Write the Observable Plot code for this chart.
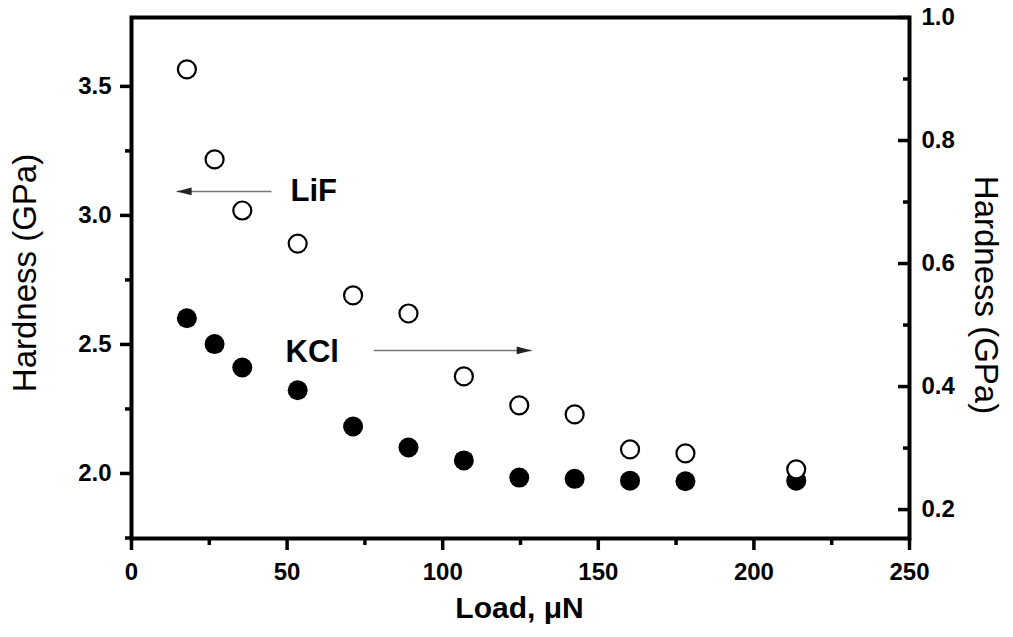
<!DOCTYPE html>
<html>
<head>
<meta charset="utf-8">
<script src="https://cdn.jsdelivr.net/npm/d3@7"></script>
<script src="https://cdn.jsdelivr.net/npm/@observablehq/plot@0.6"></script>
<style>
  html, body { margin: 0; padding: 0; background: #fff; }
  #chart svg { display: block; }
</style>
</head>
<body>
<div id="chart"></div>
<script>
// ---- data ----
const loads = [17.8, 26.7, 35.6, 53.4, 71.2, 89.0, 106.8, 124.6, 142.4, 160.2, 178.0, 213.6];
const lifHardness = [3.566, 3.217, 3.019, 2.891, 2.690, 2.620, 2.376, 2.264, 2.229, 2.093, 2.078, 2.016];
const kclHardness = [0.511, 0.469, 0.431, 0.394, 0.335, 0.301, 0.280, 0.252, 0.250, 0.247, 0.246, 0.247];

const xTicks = [0, 50, 100, 150, 200, 250];
const xMinorTicks = [25, 75, 125, 175, 225];
const leftTicks = [2.0, 2.5, 3.0, 3.5];
const leftMinorTicks = [1.75, 2.25, 2.75, 3.25];
const rightTicks = [0.2, 0.4, 0.6, 0.8, 1.0];
const rightMinorTicks = [0.3, 0.5, 0.7, 0.9];

const leftDomain = [1.748, 3.767];
const rightDomain = [0.153, 1.0];

const labels = ["LiF", "KCl"];
const labelX = [51.1, 49.5];
const labelY = [3.095, 2.469];
const arrowX1 = [45.0, 77.8];
const arrowX2 = [14.5, 128.6];
const arrowY = [3.093, 2.477];

// ---- helpers ----
const k = (leftDomain[1] - leftDomain[0]) / (rightDomain[1] - rightDomain[0]);
const toLeft = r => leftDomain[0] + (r - rightDomain[0]) * k;
const fromLeft = l => rightDomain[0] + (l - leftDomain[0]) / k;

const lif = loads.map((x, i) => ({x, y: lifHardness[i]}));
const kcl = loads.map((x, i) => ({x, y: toLeft(kclHardness[i])}));
const notes = labels.map((t, i) => ({t, x: labelX[i], y: labelY[i]}));
const arrows = labels.map((t, i) => ({x1: arrowX1[i], x2: arrowX2[i], y: arrowY[i], rot: arrowX2[i] > arrowX1[i] ? 0 : 180}));

const arrowHead = {
  draw(ctx) {
    ctx.moveTo(0, 0);
    ctx.lineTo(-15, -3.8);
    ctx.lineTo(-15, 3.8);
    ctx.closePath();
  }
};

const font = "'Liberation Sans', Arial, Helvetica, sans-serif";
const tickFont = 24;

const chart = Plot.plot({
  width: 1013,
  height: 637,
  marginLeft: 131,
  marginRight: 104,
  marginTop: 17,
  marginBottom: 99,
  style: {fontFamily: font, background: "#fff", color: "#000"},
  x: {domain: [0, 250]},
  y: {domain: leftDomain},
  marks: [
    // axes
    Plot.axisX(xTicks, {tickSize: 12, tickPadding: 12, strokeWidth: 3.5, fontSize: tickFont, fontWeight: "bold", label: null, tickFormat: d => String(d)}),
    Plot.axisX(xMinorTicks, {tickSize: 7, strokeWidth: 3.5, tickFormat: () => "", label: null}),
    Plot.axisY(leftTicks, {anchor: "left", tickSize: 11, tickPadding: 9, strokeWidth: 3.5, fontSize: tickFont, fontWeight: "bold", label: null, tickFormat: d => d.toFixed(1)}),
    Plot.axisY(leftMinorTicks, {anchor: "left", tickSize: 6, strokeWidth: 3.5, tickFormat: () => "", label: null}),
    Plot.axisY(rightTicks.map(toLeft), {anchor: "right", tickSize: 0, tickPadding: 12, fontSize: tickFont, fontWeight: "bold", label: null, tickFormat: d => fromLeft(d).toFixed(1)}),
    Plot.axisY(rightTicks.map(toLeft), {anchor: "right", tickSize: -12, strokeWidth: 3.5, tickFormat: () => "", label: null}),
    Plot.axisY(rightMinorTicks.map(toLeft), {anchor: "right", tickSize: -7, strokeWidth: 3.5, tickFormat: () => "", label: null}),
    Plot.frame({stroke: "#000", strokeWidth: 4}),
    // titles
    Plot.text(["Hardness (GPa)"], {frameAnchor: "left", textAnchor: "middle", dx: -106, dy: -5, rotate: -90, fontSize: 33, fill: "#000"}),
    Plot.text(["Hardness (GPa)"], {frameAnchor: "right", textAnchor: "middle", dx: 76, dy: 17, rotate: 90, fontSize: 33, fill: "#000"}),
    Plot.text(["Load, μN"], {frameAnchor: "bottom", dx: -1, dy: 79, fontSize: 30, fontWeight: "bold", fill: "#000"}),
    // annotations
    Plot.link(arrows, {x1: "x1", x2: "x2", y1: "y", y2: "y", stroke: "#777", strokeWidth: 1.5}),
    Plot.dot(arrows, {x: "x2", y: "y", symbol: arrowHead, rotate: "rot", fill: "#222", stroke: "none", r: 5}),
    Plot.text(notes, {x: "x", y: "y", text: "t", textAnchor: "start", fontSize: 31, fontWeight: "bold", fill: "#000"}),
    // data
    Plot.dot(kcl, {x: "x", y: "y", r: 10, fill: "#000", stroke: "none"}),
    Plot.dot(lif, {x: "x", y: "y", r: 9, fill: "#fff", stroke: "#000", strokeWidth: 2.2})
  ]
});
document.getElementById("chart").appendChild(chart);
</script>
</body>
</html>
